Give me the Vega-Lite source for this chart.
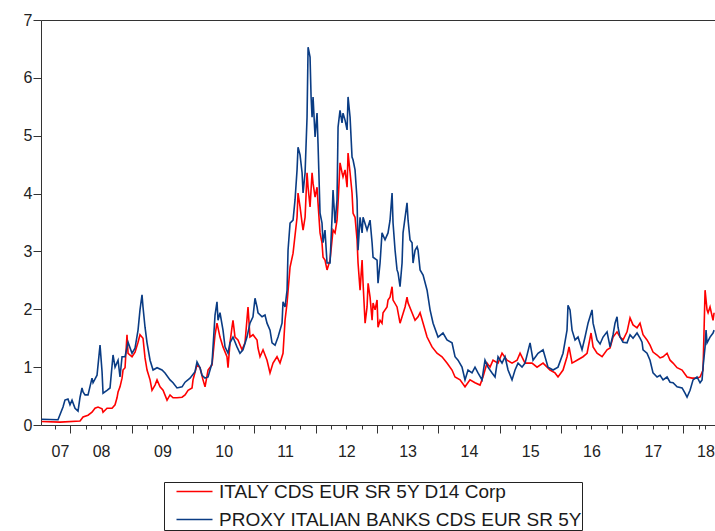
{
  "$schema": "https://vega.github.io/schema/vega-lite/v6.json",
  "width": 674,
  "height": 405,
  "autosize": "none",
  "padding": {"left": 41, "top": 20, "right": 0, "bottom": 106},
  "config": {
    "view": {"stroke": null},
    "font": "Liberation Sans",
    "axis": {"labelFont": "Liberation Sans", "labelColor": "#222", "domainColor": "#333", "tickColor": "#333", "labelFontSize": 16, "title": null},
    "legend": {"labelFont": "Liberation Sans"}
  },
  "datasets": {
    "italy": [
      {"t":2007.531,"v":0.06},{"t":2007.830,"v":0.05},{"t":2008.157,"v":0.07},{"t":2008.206,"v":0.14},{"t":2008.287,"v":0.17},{"t":2008.352,"v":0.22},{"t":2008.401,"v":0.29},{"t":2008.450,"v":0.31},{"t":2008.516,"v":0.28},{"t":2008.532,"v":0.22},{"t":2008.597,"v":0.29},{"t":2008.679,"v":0.29},{"t":2008.728,"v":0.35},{"t":2008.760,"v":0.47},{"t":2008.777,"v":0.57},{"t":2008.809,"v":0.66},{"t":2008.842,"v":0.81},{"t":2008.858,"v":0.95},{"t":2008.891,"v":0.99},{"t":2008.923,"v":1.56},{"t":2008.940,"v":1.24},{"t":2009.005,"v":1.18},{"t":2009.054,"v":1.26},{"t":2009.103,"v":1.43},{"t":2009.135,"v":1.56},{"t":2009.184,"v":1.50},{"t":2009.217,"v":1.16},{"t":2009.250,"v":0.95},{"t":2009.299,"v":0.78},{"t":2009.331,"v":0.60},{"t":2009.380,"v":0.69},{"t":2009.413,"v":0.78},{"t":2009.462,"v":0.66},{"t":2009.511,"v":0.60},{"t":2009.576,"v":0.43},{"t":2009.625,"v":0.52},{"t":2009.674,"v":0.47},{"t":2009.739,"v":0.47},{"t":2009.821,"v":0.48},{"t":2009.870,"v":0.52},{"t":2009.919,"v":0.60},{"t":2009.984,"v":0.64},{"t":2010.000,"v":0.78},{"t":2010.065,"v":1.04},{"t":2010.114,"v":0.99},{"t":2010.163,"v":0.78},{"t":2010.196,"v":0.66},{"t":2010.245,"v":0.95},{"t":2010.310,"v":1.04},{"t":2010.359,"v":1.56},{"t":2010.391,"v":1.76},{"t":2010.440,"v":1.52},{"t":2010.489,"v":1.35},{"t":2010.554,"v":1.18},{"t":2010.571,"v":0.99},{"t":2010.603,"v":1.42},{"t":2010.636,"v":1.69},{"t":2010.652,"v":1.81},{"t":2010.685,"v":1.52},{"t":2010.733,"v":1.47},{"t":2010.799,"v":1.30},{"t":2010.848,"v":1.42},{"t":2010.897,"v":2.04},{"t":2010.929,"v":1.52},{"t":2010.978,"v":1.56},{"t":2011.044,"v":1.47},{"t":2011.060,"v":1.33},{"t":2011.093,"v":1.18},{"t":2011.142,"v":1.30},{"t":2011.207,"v":1.12},{"t":2011.256,"v":0.90},{"t":2011.305,"v":1.07},{"t":2011.370,"v":1.18},{"t":2011.419,"v":1.07},{"t":2011.468,"v":1.24},{"t":2011.501,"v":1.81},{"t":2011.534,"v":2.11},{"t":2011.583,"v":2.73},{"t":2011.632,"v":2.97},{"t":2011.697,"v":3.59},{"t":2011.713,"v":4.01},{"t":2011.746,"v":3.77},{"t":2011.779,"v":3.49},{"t":2011.795,"v":3.37},{"t":2011.828,"v":3.59},{"t":2011.860,"v":4.36},{"t":2011.877,"v":4.11},{"t":2011.909,"v":3.77},{"t":2011.942,"v":4.36},{"t":2011.958,"v":4.18},{"t":2011.991,"v":3.94},{"t":2012.023,"v":4.11},{"t":2012.039,"v":3.84},{"t":2012.072,"v":3.32},{"t":2012.104,"v":3.15},{"t":2012.121,"v":2.90},{"t":2012.153,"v":2.85},{"t":2012.186,"v":2.68},{"t":2012.235,"v":2.85},{"t":2012.268,"v":3.20},{"t":2012.284,"v":3.37},{"t":2012.317,"v":3.32},{"t":2012.349,"v":3.54},{"t":2012.366,"v":3.84},{"t":2012.398,"v":4.53},{"t":2012.431,"v":4.36},{"t":2012.447,"v":4.29},{"t":2012.480,"v":4.41},{"t":2012.513,"v":4.11},{"t":2012.529,"v":4.70},{"t":2012.562,"v":4.36},{"t":2012.594,"v":4.01},{"t":2012.611,"v":3.66},{"t":2012.643,"v":3.59},{"t":2012.676,"v":3.20},{"t":2012.692,"v":2.80},{"t":2012.725,"v":2.33},{"t":2012.758,"v":2.85},{"t":2012.774,"v":2.45},{"t":2012.807,"v":1.76},{"t":2012.839,"v":2.04},{"t":2012.856,"v":2.45},{"t":2012.888,"v":2.21},{"t":2012.921,"v":1.81},{"t":2012.937,"v":2.11},{"t":2012.970,"v":1.99},{"t":2013.002,"v":2.16},{"t":2013.018,"v":1.69},{"t":2013.051,"v":1.81},{"t":2013.083,"v":1.76},{"t":2013.100,"v":1.94},{"t":2013.165,"v":2.04},{"t":2013.181,"v":2.16},{"t":2013.214,"v":2.21},{"t":2013.247,"v":2.39},{"t":2013.263,"v":2.16},{"t":2013.328,"v":2.04},{"t":2013.377,"v":1.76},{"t":2013.410,"v":1.87},{"t":2013.459,"v":2.04},{"t":2013.491,"v":2.21},{"t":2013.508,"v":2.11},{"t":2013.573,"v":1.94},{"t":2013.622,"v":1.81},{"t":2013.671,"v":1.87},{"t":2013.704,"v":1.94},{"t":2013.818,"v":1.52},{"t":2013.899,"v":1.35},{"t":2013.980,"v":1.24},{"t":2014.062,"v":1.18},{"t":2014.143,"v":1.07},{"t":2014.225,"v":0.95},{"t":2014.274,"v":0.83},{"t":2014.356,"v":0.78},{"t":2014.437,"v":0.66},{"t":2014.518,"v":0.78},{"t":2014.600,"v":0.73},{"t":2014.682,"v":0.69},{"t":2014.730,"v":0.83},{"t":2014.796,"v":1.07},{"t":2014.845,"v":1.00},{"t":2014.894,"v":1.12},{"t":2014.976,"v":1.07},{"t":2015.041,"v":1.24},{"t":2015.122,"v":1.12},{"t":2015.204,"v":1.07},{"t":2015.286,"v":1.12},{"t":2015.335,"v":1.24},{"t":2015.416,"v":1.07},{"t":2015.530,"v":1.07},{"t":2015.612,"v":1.00},{"t":2015.710,"v":1.07},{"t":2015.824,"v":0.95},{"t":2015.905,"v":0.90},{"t":2015.954,"v":0.83},{"t":2016.036,"v":0.95},{"t":2016.101,"v":1.18},{"t":2016.134,"v":1.35},{"t":2016.183,"v":1.07},{"t":2016.264,"v":1.12},{"t":2016.362,"v":1.18},{"t":2016.428,"v":1.24},{"t":2016.493,"v":1.59},{"t":2016.526,"v":1.35},{"t":2016.591,"v":1.24},{"t":2016.673,"v":1.18},{"t":2016.754,"v":1.30},{"t":2016.803,"v":1.33},{"t":2016.852,"v":1.52},{"t":2016.917,"v":1.61},{"t":2016.966,"v":1.52},{"t":2017.015,"v":1.47},{"t":2017.080,"v":1.61},{"t":2017.129,"v":1.85},{"t":2017.178,"v":1.73},{"t":2017.243,"v":1.68},{"t":2017.292,"v":1.76},{"t":2017.341,"v":1.56},{"t":2017.406,"v":1.47},{"t":2017.455,"v":1.38},{"t":2017.504,"v":1.26},{"t":2017.570,"v":1.21},{"t":2017.619,"v":1.16},{"t":2017.668,"v":1.18},{"t":2017.733,"v":1.24},{"t":2017.782,"v":1.12},{"t":2017.831,"v":1.07},{"t":2017.896,"v":0.99},{"t":2017.978,"v":0.95},{"t":2018.059,"v":0.83},{"t":2018.140,"v":0.81},{"t":2018.222,"v":0.81},{"t":2018.271,"v":0.83},{"t":2018.320,"v":0.95},{"t":2018.353,"v":2.33},{"t":2018.385,"v":1.99},{"t":2018.402,"v":1.94},{"t":2018.434,"v":2.04},{"t":2018.483,"v":1.81},{"t":2018.500,"v":1.94}
    ],
    "proxy": [
      {"t":2007.531,"v":0.10},{"t":2007.797,"v":0.09},{"t":2007.879,"v":0.31},{"t":2007.911,"v":0.43},{"t":2007.960,"v":0.45},{"t":2007.993,"v":0.35},{"t":2008.026,"v":0.43},{"t":2008.075,"v":0.29},{"t":2008.124,"v":0.24},{"t":2008.157,"v":0.48},{"t":2008.189,"v":0.64},{"t":2008.206,"v":0.57},{"t":2008.238,"v":0.52},{"t":2008.287,"v":0.52},{"t":2008.352,"v":0.81},{"t":2008.369,"v":0.73},{"t":2008.434,"v":0.86},{"t":2008.483,"v":1.38},{"t":2008.516,"v":0.92},{"t":2008.532,"v":0.55},{"t":2008.597,"v":0.60},{"t":2008.646,"v":0.64},{"t":2008.695,"v":1.21},{"t":2008.728,"v":1.00},{"t":2008.777,"v":1.12},{"t":2008.809,"v":0.83},{"t":2008.842,"v":1.18},{"t":2008.891,"v":1.18},{"t":2008.940,"v":1.43},{"t":2009.005,"v":1.24},{"t":2009.054,"v":1.33},{"t":2009.103,"v":1.64},{"t":2009.135,"v":1.99},{"t":2009.168,"v":2.25},{"t":2009.184,"v":2.04},{"t":2009.217,"v":1.69},{"t":2009.250,"v":1.42},{"t":2009.299,"v":1.12},{"t":2009.348,"v":0.95},{"t":2009.413,"v":0.99},{"t":2009.494,"v":0.95},{"t":2009.543,"v":0.90},{"t":2009.625,"v":0.78},{"t":2009.674,"v":0.73},{"t":2009.739,"v":0.64},{"t":2009.821,"v":0.66},{"t":2009.870,"v":0.74},{"t":2009.951,"v":0.81},{"t":2010.033,"v":0.92},{"t":2010.065,"v":1.09},{"t":2010.114,"v":0.99},{"t":2010.147,"v":0.86},{"t":2010.196,"v":0.81},{"t":2010.245,"v":0.83},{"t":2010.310,"v":1.07},{"t":2010.359,"v":1.90},{"t":2010.391,"v":2.13},{"t":2010.408,"v":1.81},{"t":2010.440,"v":1.94},{"t":2010.489,"v":1.64},{"t":2010.522,"v":1.35},{"t":2010.571,"v":1.24},{"t":2010.603,"v":1.42},{"t":2010.652,"v":1.52},{"t":2010.717,"v":1.35},{"t":2010.766,"v":1.24},{"t":2010.815,"v":1.30},{"t":2010.880,"v":1.52},{"t":2010.929,"v":1.76},{"t":2010.978,"v":1.87},{"t":2011.011,"v":2.19},{"t":2011.044,"v":2.04},{"t":2011.060,"v":1.94},{"t":2011.126,"v":1.87},{"t":2011.174,"v":1.90},{"t":2011.207,"v":1.76},{"t":2011.256,"v":1.64},{"t":2011.289,"v":1.42},{"t":2011.338,"v":1.38},{"t":2011.387,"v":1.52},{"t":2011.452,"v":1.76},{"t":2011.468,"v":2.13},{"t":2011.501,"v":2.04},{"t":2011.534,"v":2.33},{"t":2011.550,"v":3.02},{"t":2011.583,"v":3.49},{"t":2011.632,"v":3.54},{"t":2011.664,"v":3.89},{"t":2011.697,"v":4.41},{"t":2011.713,"v":4.80},{"t":2011.746,"v":4.67},{"t":2011.779,"v":4.36},{"t":2011.795,"v":4.01},{"t":2011.828,"v":4.36},{"t":2011.860,"v":5.32},{"t":2011.877,"v":6.53},{"t":2011.909,"v":6.36},{"t":2011.926,"v":5.67},{"t":2011.942,"v":5.32},{"t":2011.958,"v":5.67},{"t":2011.991,"v":4.98},{"t":2012.023,"v":5.39},{"t":2012.039,"v":4.87},{"t":2012.072,"v":3.66},{"t":2012.104,"v":3.49},{"t":2012.121,"v":3.15},{"t":2012.153,"v":3.37},{"t":2012.186,"v":2.80},{"t":2012.235,"v":2.80},{"t":2012.268,"v":3.59},{"t":2012.284,"v":4.06},{"t":2012.317,"v":3.49},{"t":2012.349,"v":3.89},{"t":2012.366,"v":5.15},{"t":2012.398,"v":5.44},{"t":2012.431,"v":5.22},{"t":2012.447,"v":5.39},{"t":2012.480,"v":5.27},{"t":2012.513,"v":5.10},{"t":2012.529,"v":5.67},{"t":2012.562,"v":5.32},{"t":2012.594,"v":4.63},{"t":2012.611,"v":4.58},{"t":2012.643,"v":4.41},{"t":2012.676,"v":3.89},{"t":2012.692,"v":3.02},{"t":2012.725,"v":3.59},{"t":2012.758,"v":3.32},{"t":2012.774,"v":3.59},{"t":2012.839,"v":3.37},{"t":2012.888,"v":3.54},{"t":2012.921,"v":3.15},{"t":2012.937,"v":2.90},{"t":2013.002,"v":2.85},{"t":2013.018,"v":2.45},{"t":2013.051,"v":2.80},{"t":2013.083,"v":3.32},{"t":2013.132,"v":3.20},{"t":2013.181,"v":3.32},{"t":2013.214,"v":3.54},{"t":2013.247,"v":4.01},{"t":2013.263,"v":3.49},{"t":2013.296,"v":3.02},{"t":2013.328,"v":2.68},{"t":2013.345,"v":2.63},{"t":2013.377,"v":2.39},{"t":2013.410,"v":2.80},{"t":2013.426,"v":3.32},{"t":2013.491,"v":3.84},{"t":2013.508,"v":3.54},{"t":2013.540,"v":3.20},{"t":2013.573,"v":3.15},{"t":2013.589,"v":2.80},{"t":2013.622,"v":3.02},{"t":2013.655,"v":3.08},{"t":2013.671,"v":3.02},{"t":2013.704,"v":2.68},{"t":2013.753,"v":2.59},{"t":2013.818,"v":2.33},{"t":2013.867,"v":1.99},{"t":2013.916,"v":1.76},{"t":2013.997,"v":1.52},{"t":2014.078,"v":1.59},{"t":2014.143,"v":1.47},{"t":2014.225,"v":1.42},{"t":2014.274,"v":1.18},{"t":2014.323,"v":1.12},{"t":2014.388,"v":1.00},{"t":2014.437,"v":0.78},{"t":2014.486,"v":0.95},{"t":2014.551,"v":0.90},{"t":2014.600,"v":1.00},{"t":2014.649,"v":0.90},{"t":2014.714,"v":0.78},{"t":2014.763,"v":1.12},{"t":2014.812,"v":1.00},{"t":2014.878,"v":0.90},{"t":2014.927,"v":0.83},{"t":2014.976,"v":1.18},{"t":2015.041,"v":1.07},{"t":2015.090,"v":1.18},{"t":2015.139,"v":0.95},{"t":2015.204,"v":0.78},{"t":2015.253,"v":0.95},{"t":2015.302,"v":1.07},{"t":2015.367,"v":1.00},{"t":2015.416,"v":1.07},{"t":2015.498,"v":1.42},{"t":2015.547,"v":1.12},{"t":2015.628,"v":1.24},{"t":2015.710,"v":1.30},{"t":2015.791,"v":1.00},{"t":2015.873,"v":0.95},{"t":2015.954,"v":1.00},{"t":2016.036,"v":1.24},{"t":2016.101,"v":1.64},{"t":2016.117,"v":2.07},{"t":2016.150,"v":1.99},{"t":2016.183,"v":1.64},{"t":2016.232,"v":1.47},{"t":2016.281,"v":1.52},{"t":2016.346,"v":1.30},{"t":2016.395,"v":1.52},{"t":2016.444,"v":1.76},{"t":2016.509,"v":1.99},{"t":2016.526,"v":1.76},{"t":2016.591,"v":1.47},{"t":2016.640,"v":1.40},{"t":2016.689,"v":1.52},{"t":2016.754,"v":1.61},{"t":2016.803,"v":1.35},{"t":2016.852,"v":1.56},{"t":2016.884,"v":1.76},{"t":2016.917,"v":1.87},{"t":2016.933,"v":1.69},{"t":2016.966,"v":1.52},{"t":2017.015,"v":1.43},{"t":2017.080,"v":1.42},{"t":2017.129,"v":1.56},{"t":2017.178,"v":1.50},{"t":2017.243,"v":1.59},{"t":2017.292,"v":1.50},{"t":2017.325,"v":1.43},{"t":2017.341,"v":1.30},{"t":2017.406,"v":1.24},{"t":2017.455,"v":1.12},{"t":2017.504,"v":0.90},{"t":2017.570,"v":0.83},{"t":2017.619,"v":0.86},{"t":2017.668,"v":0.78},{"t":2017.733,"v":0.83},{"t":2017.782,"v":0.74},{"t":2017.831,"v":0.73},{"t":2017.896,"v":0.66},{"t":2017.978,"v":0.64},{"t":2018.026,"v":0.55},{"t":2018.059,"v":0.48},{"t":2018.108,"v":0.60},{"t":2018.157,"v":0.78},{"t":2018.222,"v":0.83},{"t":2018.271,"v":0.73},{"t":2018.304,"v":0.78},{"t":2018.320,"v":1.00},{"t":2018.353,"v":1.35},{"t":2018.369,"v":1.64},{"t":2018.385,"v":1.42},{"t":2018.434,"v":1.52},{"t":2018.483,"v":1.59},{"t":2018.500,"v":1.64}
    ]
  },
  "encoding": {
    "x": {
      "field": "t", "type": "quantitative",
      "scale": {"domain": [2007.52, 2018.515], "nice": false, "zero": false},
      "axis": {
        "values": [2007.75, 2007.83, 2008, 2008.25, 2008.5, 2008.75, 2009, 2009.25, 2009.5, 2009.75, 2010, 2010.25, 2010.5, 2010.75, 2011, 2011.25, 2011.5, 2011.75, 2012, 2012.25, 2012.5, 2012.75, 2013, 2013.25, 2013.5, 2013.75, 2014, 2014.25, 2014.5, 2014.75, 2015, 2015.25, 2015.5, 2015.75, 2016, 2016.25, 2016.5, 2016.75, 2017, 2017.25, 2017.5, 2017.75, 2018, 2018.25, 2018.36],
        "tickSize": {"condition": {"test": "datum.value % 1 == 0", "value": 8}, "value": 4},
        "tickOpacity": {"condition": {"test": "datum.value == 2007.83", "value": 0}, "value": 1},
        "labelExpr": "(datum.value % 1 == 0.5 || datum.value == 2007.83 || datum.value == 2018.36) ? substring(toString(floor(datum.value)), 2, 4) : ''",
        "labelOverlap": false, "labelFlush": false, "labelBound": false,
        "labelPadding": 14,
        "grid": false
      }
    },
    "y": {
      "field": "v", "type": "quantitative",
      "scale": {"domain": [0, 7], "nice": false},
      "axis": {
        "values": [0, 1, 2, 3, 4, 5, 6, 7],
        "tickSize": 8,
        "labelPadding": 1,
        "grid": true,
        "gridColor": "#333",
        "gridOpacity": {"condition": {"test": "datum.value == 7", "value": 1}, "value": 0}
      }
    }
  },
  "layer": [
    {
      "data": {"name": "italy"},
      "mark": {"type": "line", "strokeWidth": 1.6},
      "encoding": {
        "color": {
          "datum": "ITALY CDS EUR SR 5Y D14 Corp", "type": "nominal",
          "scale": {"domain": ["ITALY CDS EUR SR 5Y D14 Corp", "PROXY ITALIAN BANKS CDS EUR SR 5Y"], "range": ["#FF0000", "#0A3C84"]},
          "legend": {
            "orient": "none", "legendX": 123, "legendY": 462, "direction": "vertical",
            "title": null, "strokeColor": "#222", "padding": 0,
            "symbolType": "M-2.25,0H2.25", "symbolSize": 256, "symbolStrokeWidth": 1.3,
            "symbolOffset": 21, "labelOffset": 15,
            "labelFontSize": 19, "labelColor": "#1a1a1a", "labelLimit": 800,
            "rowPadding": 8
          }
        }
      }
    },
    {
      "data": {"name": "proxy"},
      "mark": {"type": "line", "strokeWidth": 1.6},
      "encoding": {
        "color": {"datum": "PROXY ITALIAN BANKS CDS EUR SR 5Y", "type": "nominal"}
      }
    }
  ]
}
